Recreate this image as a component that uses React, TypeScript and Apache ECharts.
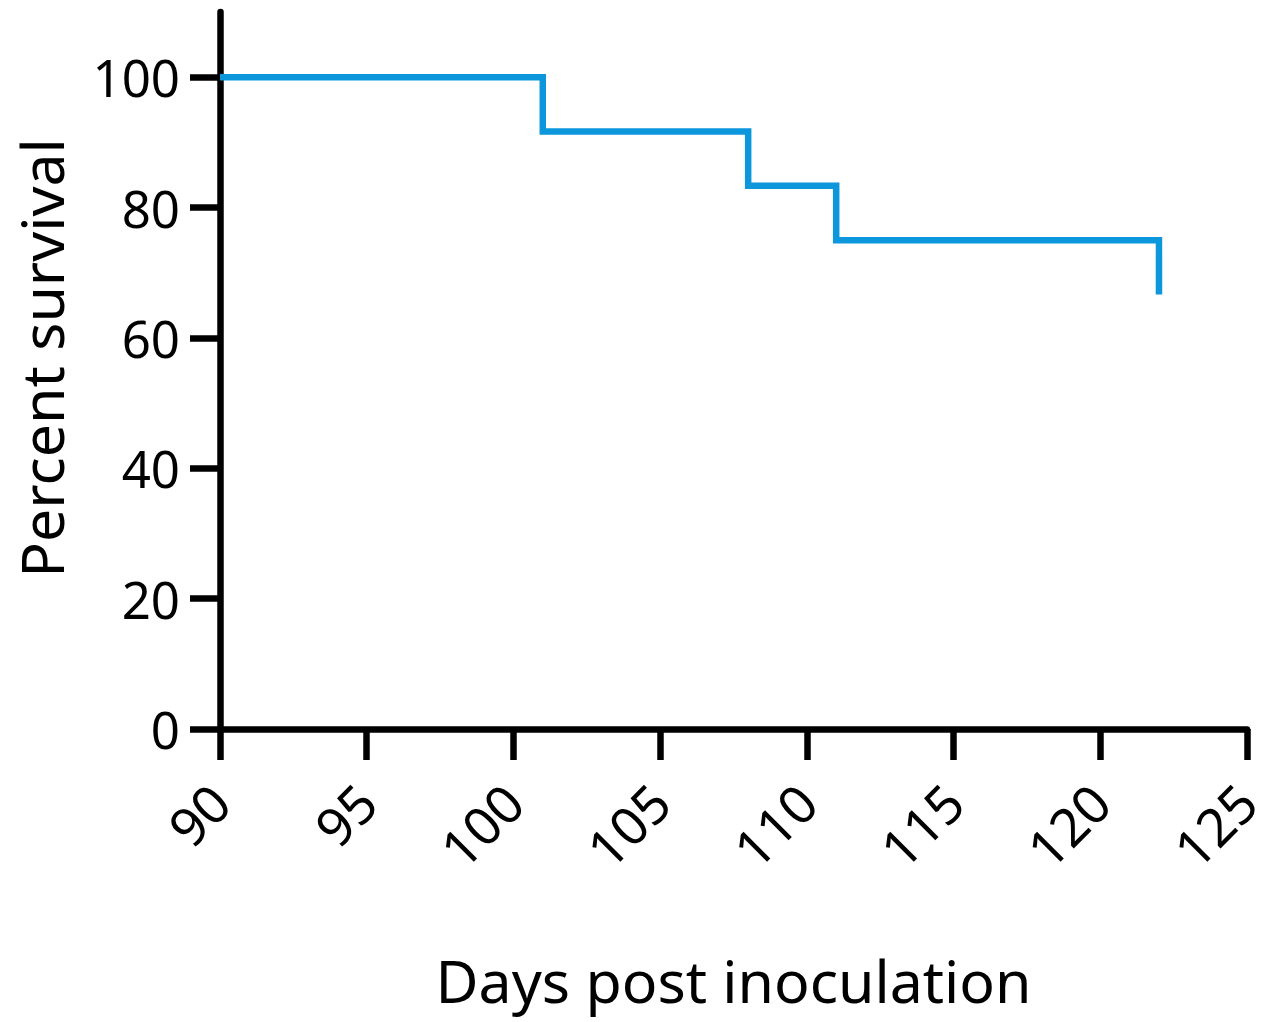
import React, { useEffect, useRef } from "react";
import * as echarts from "echarts";

const days = [90, 101, 108, 111, 122];
const survival = [100, 91.67, 83.33, 75, 66.67];
const yTicks = [0, 20, 40, 60, 80, 100];
const xTitle = "Days post inoculation";
const yTitle = "Percent survival";

export default function App() {
  const ref = useRef<HTMLDivElement>(null);
  useEffect(() => {
    if (!ref.current) return;
    const chart = echarts.init(ref.current, null, { renderer: "svg" });
    const font = "Noto Sans";
    chart.setOption({
      animation: false,
      backgroundColor: "#ffffff",
      grid: { left: 220, right: 22, top: 12, bottom: 293, containLabel: false },
      graphic: [
        {
          type: "text",
          x: 41,
          y: 358,
          rotation: Math.PI / 2,
          style: {
            text: yTitle,
            fontFamily: font,
            fontSize: 59,
            fill: "#000",
            textAlign: "center",
            textVerticalAlign: "middle",
          },
        },
      ],
      xAxis: {
        type: "value",
        min: 90,
        max: 125,
        interval: 5,
        name: xTitle,
        nameLocation: "middle",
        nameGap: 221,
        nameTextStyle: { fontFamily: font, fontSize: 59, color: "#000" },
        axisLine: { show: true, onZero: false, lineStyle: { color: "#000", width: 6.5 } },
        axisTick: { show: true, length: 31, lineStyle: { color: "#000", width: 6.5 } },
        axisLabel: { rotate: 45, margin: 64, lineHeight: 36, fontFamily: font, fontSize: 53, color: "#000" },
        splitLine: { show: false },
      },
      yAxis: {
        type: "value",
        min: 0,
        max: 110,
        interval: 20,
        axisLine: { show: true, lineStyle: { color: "#000", width: 6.5 } },
        axisTick: { show: true, length: 30, customValues: yTicks, lineStyle: { color: "#000", width: 6.5 } },
        axisLabel: { margin: 40, customValues: yTicks, fontFamily: font, fontSize: 51, color: "#000" },
        splitLine: { show: false },
      },
      series: [
        {
          type: "line",
          step: "end",
          data: days.map((d, i) => [d, survival[i]]),
          showSymbol: false,
          symbol: "none",
          lineStyle: { color: "#0c97dc", width: 6.5, cap: "butt", join: "miter" },
          z: 5,
        },
      ],
    });
    return () => chart.dispose();
  }, []);
  return (
    <div
      ref={ref}
      style={{ position: "absolute", left: 0, top: 0, width: 1269, height: 1022 }}
    />
  );
}
